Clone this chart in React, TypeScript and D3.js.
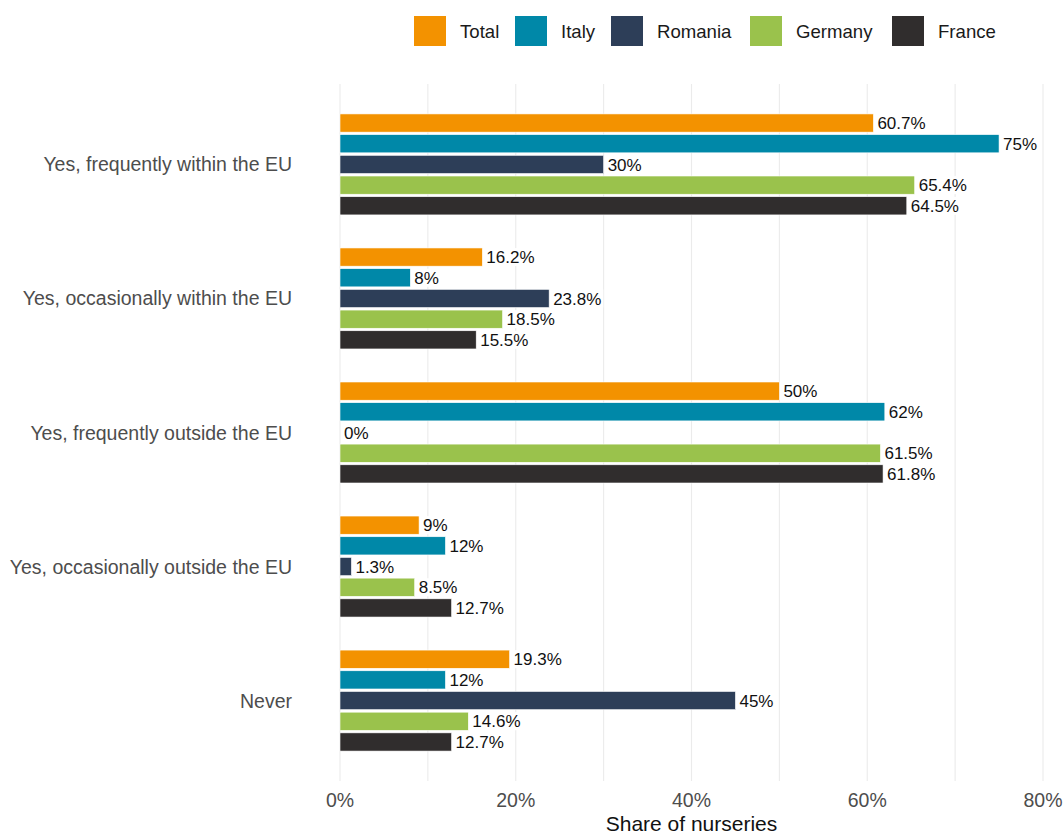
import React from "react";
import * as d3 from "d3";

const categories = [
  "Yes, frequently within the EU",
  "Yes, occasionally within the EU",
  "Yes, frequently outside the EU",
  "Yes, occasionally outside the EU",
  "Never",
];
const seriesNames = ["Total", "Italy", "Romania", "Germany", "France"];
const seriesColors = ["#F39200", "#0088A8", "#2D3E58", "#9AC24C", "#302D2D"];
const totalValues = [60.7, 16.2, 50, 9, 19.3];
const italyValues = [75, 8, 62, 12, 12];
const romaniaValues = [30, 23.8, 0, 1.3, 45];
const germanyValues = [65.4, 18.5, 61.5, 8.5, 14.6];
const franceValues = [64.5, 15.5, 61.8, 12.7, 12.7];
const seriesValues = [totalValues, italyValues, romaniaValues, germanyValues, franceValues];
const xTicks = [0, 20, 40, 60, 80];
const xGrid = [0, 10, 20, 30, 40, 50, 60, 70, 80];

const W = 1063;
const H = 835;
const FONT = "'Liberation Sans', Arial, Helvetica, sans-serif";

let ctx: CanvasRenderingContext2D | null = null;
function measure(text: string, size: number) {
  if (!ctx) ctx = document.createElement("canvas").getContext("2d");
  if (!ctx) return text.length * size * 0.55;
  ctx.font = `${size}px ${FONT}`;
  return ctx.measureText(text).width;
}

const fmt = (v: number) => `${+v.toFixed(1)}%`;

export default function App() {
  const x = d3.scaleLinear().domain([0, 80]).range([340, 1043]);
  const y = d3.scaleBand<string>().domain(categories).range([84, 781]).paddingInner(0).paddingOuter(0.1);
  const bandCenter = (c: string) => (y(c) as number) + y.bandwidth() / 2;
  const inner = d3
    .scaleBand<string>()
    .domain(seriesNames)
    .range([-50.5, 50.5])
    .paddingInner(0.12)
    .paddingOuter(0);

  const labelSize = 17;
  const axisSize = 19.5;
  const legendSize = 18.6;

  const legendX = [414, 515, 611, 750, 892];

  return (
    <svg width={W} height={H} style={{ position: "absolute", left: 0, top: 0, background: "#fff" }} fontFamily={FONT}>
      <rect width={W} height={H} fill="#fff" />
      {xGrid.map((g) => (
        <line key={g} x1={x(g)} x2={x(g)} y1={84} y2={781} stroke="#EBEBEB" strokeWidth={1.1} />
      ))}
      {categories.map((c, ci) =>
        seriesNames.map((s, si) => {
          const v = seriesValues[si][ci];
          const yy = bandCenter(c) + (inner(s) as number);
          return (
            <rect
              key={c + s}
              x={x(0)}
              y={yy}
              width={Math.max(0, x(v) - x(0))}
              height={inner.bandwidth()}
              fill={seriesColors[si]}
              stroke="#fff"
              strokeWidth={0.6}
            />
          );
        })
      )}
      {categories.map((c, ci) =>
        seriesNames.map((s, si) => {
          const v = seriesValues[si][ci];
          const yy = bandCenter(c) + (inner(s) as number) + inner.bandwidth() / 2;
          const t = fmt(v);
          const tw = measure(t, labelSize);
          const lx = x(v) + 3;
          return (
            <g key={"l" + c + s}>
              <rect x={lx - 1} y={yy - 9} width={tw + 4} height={18} fill="#fff" />
              <text x={lx + 1} y={yy} dy="0.36em" fontSize={labelSize} fill="#111">
                {t}
              </text>
            </g>
          );
        })
      )}
      {categories.map((c) => (
        <text key={"y" + c} x={292} y={bandCenter(c)} dy="0.36em" textAnchor="end" fontSize={axisSize} fill="#4D4D4D">
          {c}
        </text>
      ))}
      {xTicks.map((t) => (
        <text key={"x" + t} x={x(t)} y={800} dy="0.36em" textAnchor="middle" fontSize={axisSize} fill="#4D4D4D">
          {`${t}%`}
        </text>
      ))}
      <text x={(x(0) + x(80)) / 2} y={831} textAnchor="middle" fontSize={21} fill="#111">
        Share of nurseries
      </text>
      {seriesNames.map((s, i) => (
        <g key={"lg" + s}>
          <rect x={legendX[i]} y={16} width={32} height={30} fill={seriesColors[i]} />
          <text x={legendX[i] + 46} y={31} dy="0.36em" fontSize={legendSize} fill="#1A1A1A">
            {s}
          </text>
        </g>
      ))}
    </svg>
  );
}
